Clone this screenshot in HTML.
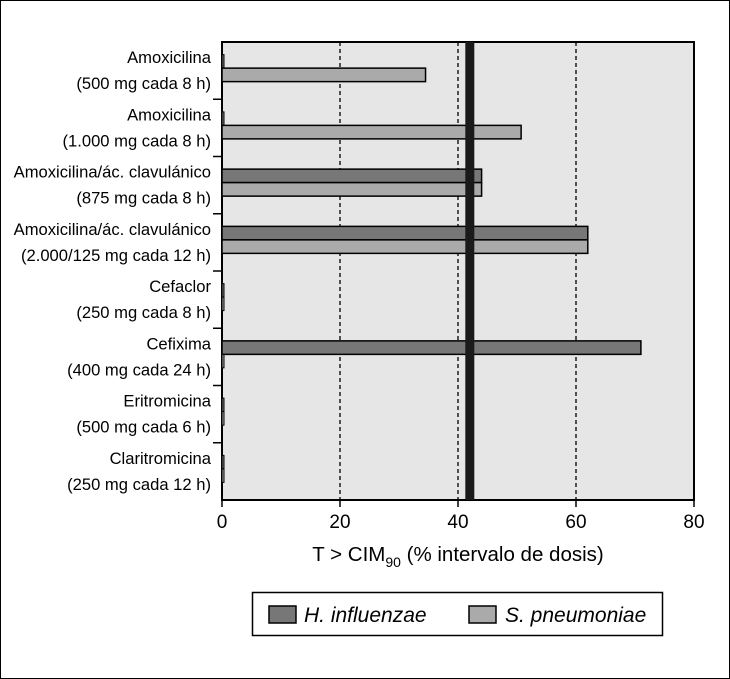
<!DOCTYPE html>
<html><head><meta charset="utf-8"><style>
body{margin:0;background:#fff}
svg{display:block;font-family:"Liberation Sans",Arial,sans-serif}
</style></head><body>
<svg width="730" height="679" viewBox="0 0 730 679">
<rect x="0.5" y="0.5" width="729" height="678" fill="#fff" stroke="#000"/>
<rect x="222" y="42" width="472" height="458" fill="#e6e6e6" stroke="#000" stroke-width="2"/>
<g id="grid"></g>
<g id="bars"></g>
<g id="labels"></g>
<g id="xticks"></g>
<text x="458" y="561" font-size="20.5" text-anchor="middle">T &gt; CIM<tspan font-size="14" dy="6">90</tspan><tspan dy="-6"> (% intervalo de dosis)</tspan></text>
<g>
<rect x="252.5" y="592.5" width="410" height="43" fill="#fff" stroke="#000" stroke-width="1.5"/>
<g><rect x="269" y="606" width="27" height="17" fill="#777" stroke="#000" stroke-width="1.5"/><text x="304" y="622" font-size="21" font-style="italic">H. influenzae</text></g>
<g><rect x="469" y="606" width="27" height="17" fill="#aaa" stroke="#000" stroke-width="1.5"/><text x="505" y="622" font-size="21" font-style="italic">S. pneumoniae</text></g>
</g>
</svg>
<script>
const categories1=["Amoxicilina","Amoxicilina","Amoxicilina/ác. clavulánico","Amoxicilina/ác. clavulánico","Cefaclor","Cefixima","Eritromicina","Claritromicina"];
const categories2=["(500 mg cada 8 h)","(1.000 mg cada 8 h)","(875 mg cada 8 h)","(2.000/125 mg cada 12 h)","(250 mg cada 8 h)","(400 mg cada 24 h)","(500 mg cada 6 h)","(250 mg cada 12 h)"];
const hInfluenzae=[0,0,44,62,0,71,0,0];
const sPneumoniae=[34.5,50.7,44,62,0,0,0,0];
const xTicks=[0,20,40,60,80];
const threshold=[42];
const NS="http://www.w3.org/2000/svg";
const X0=222,X1=694,Y0=42,Y1=500;
const xs=v=>X0+(v/80)*(X1-X0);
const band=(Y1-Y0)/categories1.length;
function mk(t,a,p){const e=document.createElementNS(NS,t);for(const k in a)e.setAttribute(k,a[k]);p.appendChild(e);return e;}
const grid=document.getElementById('grid'),bars=document.getElementById('bars'),labels=document.getElementById('labels'),xt=document.getElementById('xticks');
[20,40,60].forEach(v=>{const l=mk('line',{x1:xs(v),x2:xs(v),y1:Y0,y2:Y1,stroke:'#000','stroke-width':1.3,'stroke-dasharray':'4,3'},grid);

});
categories1.forEach((c,i)=>{
 const cy=Y0+band*(i+0.5)-2.5;
 const bh=13.5;
 [[hInfluenzae[i],'#777',cy-bh,'h-influenzae'],[sPneumoniae[i],'#aaa',cy,'s-pneumoniae']].forEach(([v,col,y,nm])=>{
  const w=Math.max(xs(v)-X0,2);
  const r=mk('rect',{x:X0,y:y,width:w,height:bh,fill:col,stroke:'#000','stroke-width':v>0?1.5:1},bars);
  
  
 });
 const t1=mk('text',{x:211,y:cy-5,'font-size':16.6,'text-anchor':'end'},labels);t1.textContent=c;
 
 
 const t2=mk('text',{x:211,y:cy+21,'font-size':16.6,'text-anchor':'end'},labels);t2.textContent=categories2[i];
 
 
 if(i>0){const tk=mk('line',{x1:213,x2:222,y1:Y0+band*i,y2:Y0+band*i,stroke:'#000','stroke-width':1.5},labels);
 
 }
});
threshold.forEach(v=>{const r=mk('rect',{x:xs(v)-4.5,y:Y0,width:9,height:Y1-Y0,fill:'#1a1a1a'},bars);

});
xTicks.forEach(v=>{const l=mk('line',{x1:xs(v),x2:xs(v),y1:Y1,y2:Y1+7,stroke:'#000','stroke-width':1.5},xt);


const t=mk('text',{x:xs(v),y:Y1+28,'font-size':19,'text-anchor':'middle'},xt);t.textContent=v;

});
</script>
</body></html>
